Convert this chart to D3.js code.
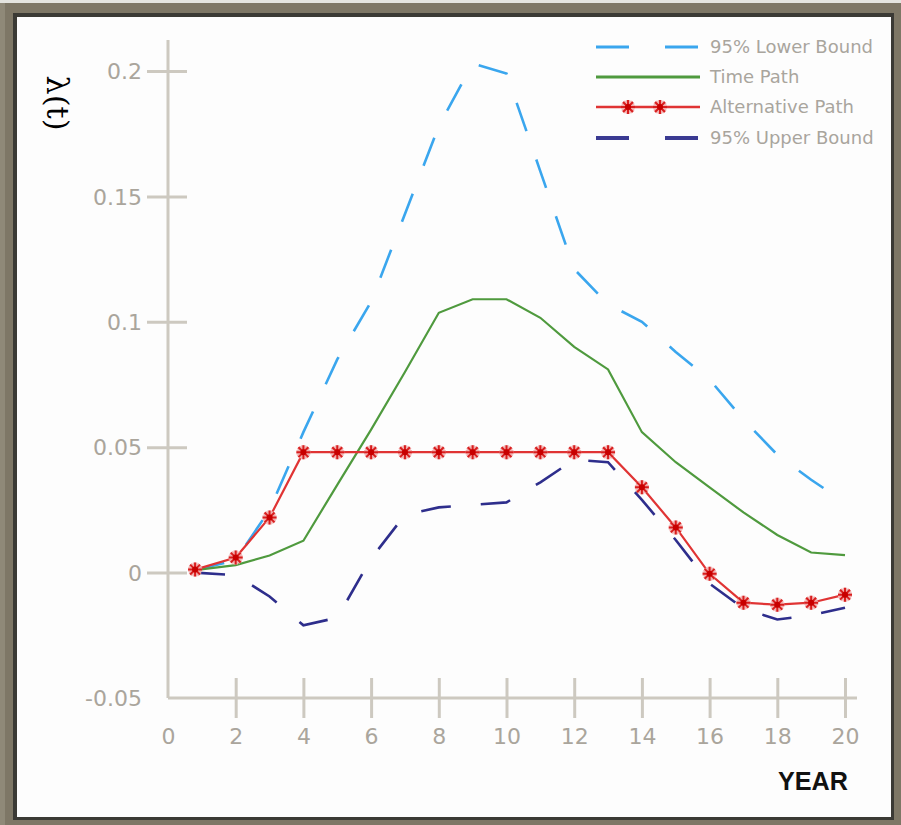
<!DOCTYPE html>
<html><head><meta charset="utf-8">
<script src="https://cdn.jsdelivr.net/npm/d3@7"></script>
<style>html,body{margin:0;padding:0;background:#fff;} svg{display:block}</style>
</head><body>
<svg id="chart" width="901" height="825"></svg>
<script>
// ---- data ----
const years = [0.8,2,3,4,5,6,7,8,9,10,11,12,13,14,15,16,17,18,19,20];
const lowerBound = [0.001,0.005,0.025,0.056,0.085,0.108,0.143,0.178,0.203,0.199,0.160,0.121,0.107,0.100,0.088,0.077,0.061,0.047,0.037,0.028];
const timePath = [0.001,0.003,0.0068,0.0127,0.035,0.057,0.080,0.1036,0.109,0.109,0.1016,0.090,0.081,0.056,0.044,0.034,0.024,0.015,0.008,0.007];
const altPath = [0.0012,0.006,0.022,0.048,0.048,0.048,0.048,0.048,0.048,0.048,0.048,0.048,0.048,0.034,0.018,-0.0005,-0.012,-0.0128,-0.012,-0.0088];
const upperBound = [0.0,-0.001,-0.0095,-0.021,-0.018,0.0056,0.023,0.026,0.027,0.028,0.036,0.045,0.044,0.029,0.013,-0.0044,-0.0143,-0.0187,-0.017,-0.014];
const xTicks = [0,2,4,6,8,10,12,14,16,18,20];
const xTickLabels = ["0","2","4","6","8","10","12","14","16","18","20"];
const yTicks = [-0.05,0,0.05,0.1,0.15,0.2];
const yTickLabels = ["-0.05","0","0.05","0.1","0.15","0.2"];
const seriesNames = ["95% Lower Bound","Time Path","Alternative Path","95% Upper Bound"];
const xTitle = "YEAR";
const yTitle = "λ(t)";

// ---- drawing ----
const svg = d3.select("#chart");
const W = 901, H = 825;

// frame
svg.append("rect").attr("x",0).attr("y",0).attr("width",W).attr("height",H).attr("fill","#7e7766");
svg.append("rect").attr("x",0).attr("y",0).attr("width",W).attr("height",3).attr("fill","#e4e4df");
svg.append("rect").attr("x",0).attr("y",3).attr("width",5).attr("height",H).attr("fill","#8f8978");
svg.append("rect").attr("x",13).attr("y",13).attr("width",881).attr("height",807).attr("fill","#3b3a35");
svg.append("rect").attr("x",17).attr("y",17).attr("width",874).attr("height",800).attr("fill","#fdfdfd");

const x = d3.scaleLinear().domain([0,20]).range([168,845]);
const y = d3.scaleLinear().domain([-0.05,0.2]).range([698,71]);

const axisColor = "#cdc9c0";
const labelColor = "#aaa59c";
const numFont = "'DejaVu Sans', sans-serif";

// Y axis
const yAxis = d3.axisLeft(y).tickValues(yTicks)
  .tickFormat((d,i)=>yTickLabels[i]).tickSize(0).tickPadding(26);
const gy = svg.append("g").attr("transform",`translate(${x(0)},0)`).call(yAxis);
gy.select(".domain").remove();
gy.selectAll(".tick line").attr("x1",d=>d===-0.05?0:-21).attr("x2",d=>d===-0.05?0:19)
  .attr("stroke",axisColor).attr("stroke-width",3);
gy.selectAll(".tick text").attr("fill",labelColor).attr("font-family",numFont)
  .attr("font-size",22).attr("dy","0.35em");
svg.append("line").attr("x1",x(0)).attr("x2",x(0)).attr("y1",40).attr("y2",y(-0.05))
  .attr("stroke",axisColor).attr("stroke-width",3);

// X axis
const xAxis = d3.axisBottom(x).tickValues(xTicks)
  .tickFormat((d,i)=>xTickLabels[i]).tickSize(0).tickPadding(28);
const gx = svg.append("g").attr("transform",`translate(0,${y(-0.05)})`).call(xAxis);
gx.select(".domain").remove();
gx.selectAll(".tick line").attr("y1",d=>d===0?0:-20).attr("y2",d=>d===0?0:20)
  .attr("stroke",axisColor).attr("stroke-width",3);
gx.selectAll(".tick text").attr("fill",labelColor).attr("font-family",numFont)
  .attr("font-size",22).attr("dy","0.35em").attr("y",38);
svg.append("line").attr("x1",x(0)).attr("x2",857).attr("y1",y(-0.05)).attr("y2",y(-0.05))
  .attr("stroke",axisColor).attr("stroke-width",3);

// Titles
svg.append("text").attr("x",813).attr("y",790).attr("text-anchor","middle")
  .attr("font-family","'Liberation Sans', Arial, sans-serif").attr("font-weight","bold")
  .attr("font-size",25).attr("fill","#111").attr("textLength",70).attr("lengthAdjust","spacingAndGlyphs")
  .text(xTitle);
svg.append("text").attr("transform","translate(47,103) rotate(90)").attr("text-anchor","middle")
  .attr("font-family","'DejaVu Serif', serif").attr("font-size",30).attr("fill","#000")
  .attr("textLength",55).attr("lengthAdjust","spacingAndGlyphs")
  .text(yTitle);

// series lines
const line = d3.line().x((d,i)=>x(years[i])).y(d=>y(d));
const colLower = "#3aa6ee", colTime = "#4f9a3e", colAlt = "#e03434", colUpper = "#2e2e8c";

svg.append("path").datum(lowerBound).attr("d",line).attr("fill","none")
  .attr("stroke",colLower).attr("stroke-width",2.6).attr("stroke-dasharray","30,30");
svg.append("path").datum(upperBound).attr("d",line).attr("fill","none")
  .attr("stroke",colUpper).attr("stroke-width",2.6).attr("stroke-dasharray","30,30");
svg.append("path").datum(timePath).attr("d",line).attr("fill","none")
  .attr("stroke",colTime).attr("stroke-width",2.2);
svg.append("path").datum(altPath).attr("d",line).attr("fill","none")
  .attr("stroke",colAlt).attr("stroke-width",2.2);

function star(g, cx, cy){
  const r = 7;
  const d = [0,45,90,135].map(a=>{const t=a*Math.PI/180;
    return `M${cx-r*Math.cos(t)},${cy-r*Math.sin(t)}L${cx+r*Math.cos(t)},${cy+r*Math.sin(t)}`;}).join("");
  g.append("path").attr("d",d).attr("stroke","#f2b0b0").attr("stroke-width",4.5).attr("fill","none");
  g.append("path").attr("d",d).attr("stroke","#d81e1e").attr("stroke-width",2).attr("fill","none");
  g.append("circle").attr("cx",cx).attr("cy",cy).attr("r",3).attr("fill","#c80000");
}
const gm = svg.append("g");
altPath.forEach((v,i)=>star(gm, x(years[i]), y(v)));

// legend
const legY = [47,77,107,138];
const lg = svg.append("g");
const lx1 = 596, lx2 = 700, tx = 710;
const legText = (i)=>lg.append("text").attr("x",tx).attr("y",legY[i]).attr("dy","0.35em")
  .attr("font-family",numFont).attr("font-size",18).attr("fill","#a9a59d").text(seriesNames[i]);
lg.append("line").attr("x1",lx1).attr("x2",lx2).attr("y1",legY[0]).attr("y2",legY[0])
  .attr("stroke",colLower).attr("stroke-width",3).attr("stroke-dasharray","33,36");
legText(0);
lg.append("line").attr("x1",lx1).attr("x2",lx2).attr("y1",legY[1]).attr("y2",legY[1])
  .attr("stroke",colTime).attr("stroke-width",3);
legText(1);
lg.append("line").attr("x1",lx1).attr("x2",lx2).attr("y1",legY[2]).attr("y2",legY[2])
  .attr("stroke",colAlt).attr("stroke-width",2.6);
star(lg, 628, legY[2]); star(lg, 660, legY[2]);
legText(2);
lg.append("line").attr("x1",lx1).attr("x2",lx2).attr("y1",legY[3]).attr("y2",legY[3])
  .attr("stroke","#3a3a92").attr("stroke-width",4).attr("stroke-dasharray","33,36");
legText(3);
</script>
</body></html>
